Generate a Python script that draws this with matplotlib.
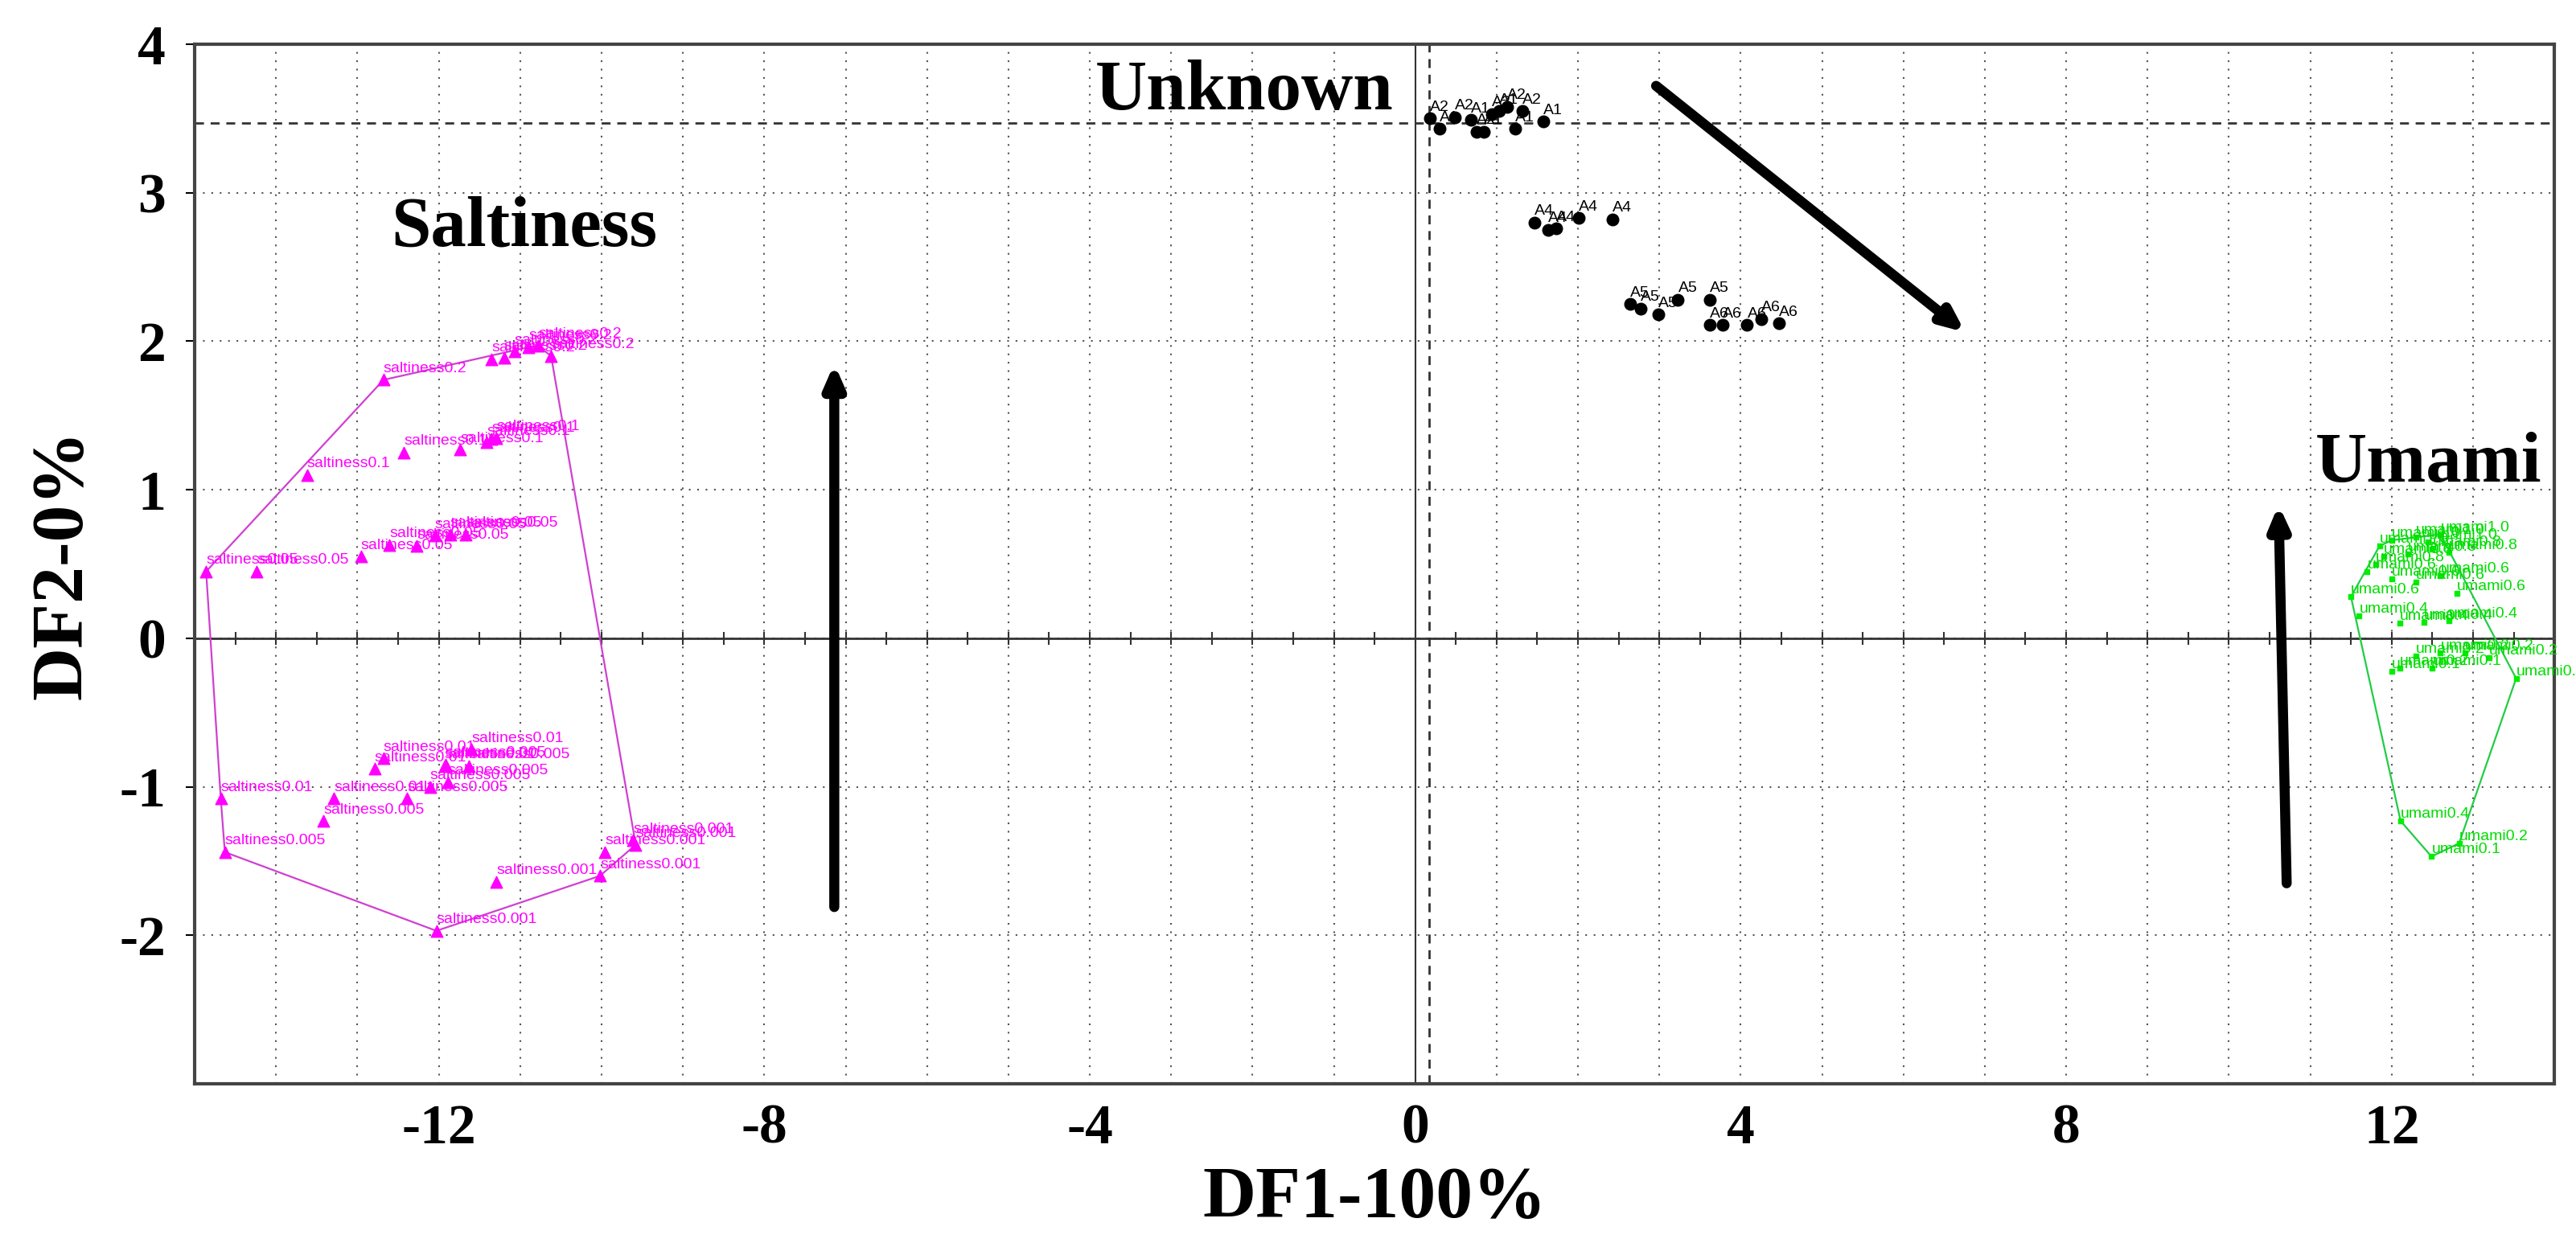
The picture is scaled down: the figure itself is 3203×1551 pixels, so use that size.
import numpy as np
import matplotlib
matplotlib.use("Agg")
import matplotlib.pyplot as plt

# ---- data ----
salt_x = [-12.68, -11.35, -11.2, -11.07, -10.9, -10.62, -10.78,
          -13.62, -12.43, -11.74, -11.41, -11.35, -11.29,
          -14.86, -14.24, -12.96, -12.61, -12.27, -12.05, -11.86, -11.67,
          -14.68, -13.29, -12.79, -12.68, -11.93, -11.6,
          -14.63, -13.42, -12.39, -12.11, -11.89, -11.63, -11.92,
          -12.03, -11.29, -10.02, -9.96, -9.58, -9.61]
salt_y = [1.74, 1.88, 1.89, 1.93, 1.96, 1.90, 1.97,
          1.10, 1.25, 1.27, 1.32, 1.34, 1.35,
          0.45, 0.45, 0.55, 0.63, 0.62, 0.69, 0.70, 0.70,
          -1.08, -1.08, -0.88, -0.81, -0.86, -0.75,
          -1.44, -1.23, -1.08, -1.00, -0.97, -0.86, -0.85,
          -1.97, -1.64, -1.60, -1.44, -1.39, -1.36]
salt_lab = (["saltiness0.2"] * 7 + ["saltiness0.1"] * 6 + ["saltiness0.05"] * 8 +
            ["saltiness0.01"] * 6 + ["saltiness0.005"] * 7 + ["saltiness0.001"] * 6)

unk_x = [0.18, 0.30, 0.49, 0.68, 0.75, 0.84, 0.94, 1.03, 1.13, 1.23, 1.32, 1.57,
         1.47, 1.63, 1.73, 2.01, 2.42,
         2.64, 2.77, 2.99, 3.23, 3.62,
         3.62, 3.78, 4.08, 4.25, 4.47]
unk_y = [3.50, 3.43, 3.51, 3.49, 3.41, 3.41, 3.53, 3.55, 3.58, 3.43, 3.55, 3.48,
         2.80, 2.75, 2.76, 2.83, 2.82,
         2.25, 2.22, 2.18, 2.28, 2.28,
         2.11, 2.11, 2.11, 2.15, 2.12]
unk_lab = (["A2", "A1"] * 6 + ["A4"] * 5 + ["A5"] * 5 + ["A6"] * 5)

umami_x = [12.0, 12.3, 12.6, 11.85, 12.45,
           11.9, 12.2, 12.5, 11.8, 12.7,
           11.5, 12.0, 12.3, 12.6, 11.7, 12.8,
           12.1, 12.4, 12.7, 11.6, 12.11,
           12.3, 12.6, 12.9, 13.2, 12.1, 12.83,
           12.0, 12.5, 13.53, 12.49]
umami_y = [0.66, 0.68, 0.70, 0.62, 0.65,
           0.55, 0.57, 0.60, 0.50, 0.58,
           0.28, 0.40, 0.38, 0.42, 0.45, 0.30,
           0.10, 0.11, 0.12, 0.15, -1.23,
           -0.12, -0.10, -0.10, -0.13, -0.20, -1.38,
           -0.22, -0.20, -0.27, -1.47]
umami_lab = (["umami1.0"] * 5 + ["umami0.8"] * 5 + ["umami0.6"] * 6 +
             ["umami0.4"] * 5 + ["umami0.2"] * 6 + ["umami0.1"] * 4)

x_ticks = [-12, -8, -4, 0, 4, 8, 12]
y_ticks = [-2, -1, 0, 1, 2, 3, 4]


def hull(xs, ys):
    pts = sorted(set(zip(xs, ys)))
    def cross(o, a, b):
        return (a[0] - o[0]) * (b[1] - o[1]) - (a[1] - o[1]) * (b[0] - o[0])
    lower, upper = [], []
    for p in pts:
        while len(lower) >= 2 and cross(lower[-2], lower[-1], p) <= 0:
            lower.pop()
        lower.append(p)
    for p in reversed(pts):
        while len(upper) >= 2 and cross(upper[-2], upper[-1], p) <= 0:
            upper.pop()
        upper.append(p)
    h = lower[:-1] + upper[:-1] + [lower[0]]
    return [p[0] for p in h], [p[1] for p in h]


fig = plt.figure(figsize=(32.03, 15.51), dpi=100)
ax = fig.add_axes([0.0756, 0.1309, 0.916, 0.8336])
ax.set_xlim(-15, 14)
ax.set_ylim(-3, 4)

# grid every unit
gkw = dict(linestyle=(0, (1, 4)), color="#555555", linewidth=1.5)
for v in np.arange(-14, 14, 1):
    ax.axvline(v, zorder=0, **gkw)
for v in np.arange(-2, 4, 1):
    ax.axhline(v, zorder=0, **gkw)
ax.set_xticks(x_ticks)
ax.set_yticks(y_ticks)
ax.set_xticklabels([str(v) for v in x_ticks])
ax.set_yticklabels([str(v) for v in y_ticks])
ax.tick_params(axis="x", length=0, pad=18)
ax.tick_params(axis="y", length=8, width=1.5, pad=18)
for lab in ax.get_xticklabels() + ax.get_yticklabels():
    lab.set_fontfamily("Liberation Serif")
    lab.set_fontweight("bold")
    lab.set_fontsize(50)
for sp in ax.spines.values():
    sp.set_linewidth(3)
    sp.set_color("#444444")

# zero axes with tick marks
ax.axhline(0, color="#333333", lw=2)
ax.axvline(0, color="#333333", lw=1.5)
xt = np.arange(-15, 14.01, 0.5)
ax.plot(xt, np.zeros_like(xt), "|", color="#333333", ms=12, mew=1.5)
ax.axhline(3.47, color="#333333", lw=2, ls=(0, (4, 3)))
ax.axvline(0.17, color="#333333", lw=2, ls=(0, (4, 3)))

lab_font = dict(fontsize=14, family="Liberation Sans", stretch="condensed")

# saltiness
hx, hy = hull(salt_x, salt_y)
ax.plot(hx, hy, color="#d040d0", lw=1.6)
ax.scatter(salt_x, salt_y, marker="^", s=110, color="#ff00ff", zorder=3)
for x, y, t in zip(salt_x, salt_y, salt_lab):
    ax.text(x, y + 0.03, t, color="#ff00ff", va="bottom", ha="left", **lab_font)

# unknown
ax.scatter(unk_x, unk_y, marker="o", s=110, color="black", zorder=3)
for x, y, t in zip(unk_x, unk_y, unk_lab):
    ax.text(x, y + 0.03, t, color="black", va="bottom", ha="left", **lab_font)

# umami
hx, hy = hull(umami_x, umami_y)
ax.plot(hx, hy, color="#22cc44", lw=1.6)
ax.scatter(umami_x, umami_y, marker="s", s=20, color="#00ee00", zorder=3)
for x, y, t in zip(umami_x, umami_y, umami_lab):
    ax.text(x, y, t, color="#00dd00", va="bottom", ha="left", **lab_font)

# group titles
title_font = dict(family="Liberation Serif", fontweight="bold", fontsize=64)
ax.text(-10.95, 2.76, "Saltiness", ha="center", va="center", **title_font)
ax.text(-2.1, 3.68, "Unknown", ha="center", va="center", **title_font)
ax.text(12.45, 1.17, "Umami", ha="center", va="center", **title_font)

# arrows
arr = dict(arrowstyle="-|>,head_length=1.6,head_width=0.7", color="black",
           lw=9, capstyle="round", shrinkA=0, shrinkB=0)
ax.annotate("", xy=(-7.14, 1.85), xytext=(-7.14, -1.81), arrowprops=arr)
ax.annotate("", xy=(6.76, 2.06), xytext=(2.96, 3.72), arrowprops=arr)
ax.annotate("", xy=(10.61, 0.9), xytext=(10.71, -1.65), arrowprops=arr)

ax.set_xlabel("DF1-100%", family="Liberation Serif", fontweight="bold",
              fontsize=66, labelpad=10)
ax.set_ylabel("DF2-0%", family="Liberation Serif", fontweight="bold",
              fontsize=66, labelpad=20)

fig.savefig("out.png", dpi=100)
